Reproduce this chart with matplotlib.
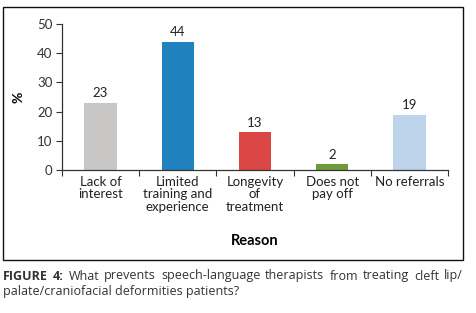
import matplotlib.pyplot as plt
from matplotlib.patches import Rectangle

reasons = ["Lack of\ninterest", "Limited\ntraining and\nexperience", "Longevity\nof\ntreatment",
           "Does not\npay off", "No referrals"]
percent = [23, 44, 13, 2, 19]
colors = ["#c8c7c5", "#2180be", "#d94643", "#6e9a3a", "#bdd3ea"]
y_ticks = [0, 10, 20, 30, 40, 50]
caption_line1 = "FIGURE 4: What prevents speech-language therapists from treating cleft lip/"
caption_line2 = "palate/craniofacial deformities patients?"

plt.rcParams['font.family'] = ['Lato', 'DejaVu Sans']

fig = plt.figure(figsize=(4.77, 3.13), dpi=100)
ax = fig.add_axes([0.130, 0.457, 0.809, 0.466])

x = range(len(percent))
ax.bar(x, percent, width=0.42, color=colors)
for i, v in enumerate(percent):
    ax.text(i, v + 1.2, str(v), ha='center', va='bottom', fontsize=9.5, color='#222222')

ax.set_xlim(-0.5, len(percent) - 0.5)
ax.set_ylim(0, 50)
ax.set_yticks(y_ticks)
ax.tick_params(axis='y', labelsize=9.5, length=4, direction='out', colors='#333333', pad=3)
ax.set_xticks([i - 0.5 for i in range(len(percent) + 1)])
ax.set_xticklabels([])
ax.set_xticks(list(x), minor=True)
ax.set_xticklabels(reasons, minor=True, fontsize=9.5, linespacing=1.05)
ax.tick_params(axis='x', which='major', length=4, direction='out', colors='#333333')
ax.tick_params(axis='x', which='minor', length=0, pad=4, labelcolor='#222222')
for s in ['top', 'right']:
    ax.spines[s].set_visible(False)
for s in ['left', 'bottom']:
    ax.spines[s].set_color('#333333')
    ax.spines[s].set_linewidth(0.9)

ax.set_ylabel("%", fontsize=10, fontweight='bold', labelpad=9)
fig.text(255 / 477, 1 - 241 / 313, "Reason", ha='center', va='center', fontsize=10.5, fontweight='bold')

# outer frame
fig.add_artist(Rectangle((3 / 477, 1 - 260 / 313), 460 / 477, 253 / 313, transform=fig.transFigure,
                         fill=False, edgecolor='#111111', linewidth=1.0))

# justified first caption line: place word by word
renderer = fig.canvas.get_renderer()
words = caption_line1.split(" ")
y1 = 1 - 276 / 313
texts = []
for k, w in enumerate(words):
    bold = k < 2
    t = fig.text(0, y1, w, ha='left', va='center', fontsize=9, color='#333333',
                 family='Open Sans', fontweight='bold' if bold else 'normal')
    texts.append(t)
widths = [t.get_window_extent(renderer).width for t in texts]
left, right = 3, 463
gap = (right - left - sum(widths)) / (len(words) - 1)
pos = left
for t, wd in zip(texts, widths):
    t.set_x(pos / 477)
    pos += wd + gap

fig.text(3 / 477, 1 - 291 / 313, caption_line2,
         ha='left', va='center', fontsize=9, color='#333333', family='Open Sans')

fig.savefig("out.png", dpi=100)
